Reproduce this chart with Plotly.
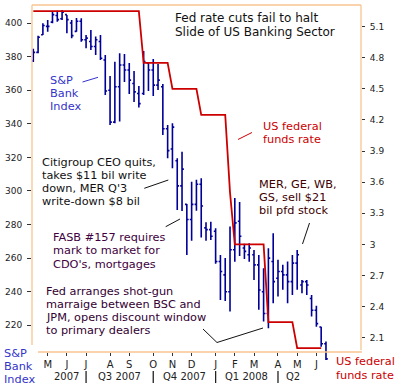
import plotly.graph_objects as go
import pandas as pd

# ---------------- data ----------------
WEEK_START = "2007-04-09"          # weekly bars (week beginning Monday)
weeks = pd.date_range(WEEK_START, periods=62, freq="7D")

bank_open = [377.5, 382.5, 393, 398, 400.5, 404.5, 402.5, 405, 400, 395,
             401, 390, 389, 386, 389, 378, 360, 341, 362, 375,
             372, 364, 358, 358, 376, 372, 363, 362, 337, 325,
             318, 303, 292, 283, 292, 304, 278, 277, 276, 258,
             250, 240, 265, 282, 266, 262, 262, 256, 240, 227,
             258, 248, 252, 250, 246, 257, 244, 246, 236, 229,
             219, 209]
bank_high = [384.6, 392.4, 399.8, 401.8, 406.7, 407.3, 407.7, 404.8, 401.8, 403,
             402.8, 392.9, 395.8, 391.9, 392.9, 381.0, 368.5, 377.0, 382.0, 381.5,
             376.2, 371.4, 362.5, 383.3, 376.8, 378.6, 375.6, 363.7, 339.3, 340.3,
             319.5, 323.4, 292.3, 305.5, 306.6, 307.6, 281.4, 281.7, 277.8, 261.9,
             260.1, 278.8, 295.8, 293.4, 268.5, 268.9, 264.9, 261.9, 254.0, 265.9,
             274.8, 259.0, 256.0, 258.0, 261.9, 264.9, 247.0, 247.0, 238.1, 231.6,
             219.2, 210.3]
bank_low = [376.8, 382.0, 392.9, 394.8, 399.8, 400.8, 401.8, 393.9, 390.9, 394.8,
            388.9, 384.9, 383.9, 381.0, 378.0, 357.2, 339.3, 340.3, 341.3, 364.9,
            357.7, 353.0, 349.7, 357.2, 359.5, 356.6, 360.1, 333.3, 319.5, 313.5,
            288.7, 288.1, 261.9, 270.3, 288.2, 272.3, 270.3, 270.8, 256.6, 235.1,
            234.5, 228.2, 257.8, 261.3, 259.5, 257.9, 247.0, 229.2, 222.2, 218.3,
            233.2, 237.1, 241.1, 233.2, 238.1, 241.1, 239.1, 238.1, 225.2, 219.2,
            207.3, 199.4]
bank_close = [382.5, 391.5, 398.5, 398, 405, 402, 406.5, 402, 392.5, 401,
              390, 391, 386, 390, 379, 359.5, 341, 362, 375, 372,
              366, 359, 352, 377, 372, 363, 366, 337, 324, 338,
              303, 313, 283, 292, 304, 291, 277, 273, 258, 252,
              240, 265, 281, 273, 264, 266, 256, 241, 227, 260,
              246, 252, 250, 246, 257, 262, 246, 244, 229, 221,
              209, 200]
fed_funds_rate = [5.25, 5.25, 5.25, 5.25, 5.25, 5.25, 5.25, 5.25, 5.25, 5.25,
                  5.25, 5.25, 5.25, 5.25, 5.25, 5.25, 5.25, 5.25, 5.25, 5.25,
                  5.25, 5.25, 5.25, 4.75, 4.75, 4.75, 4.75, 4.75, 4.75, 4.5,
                  4.5, 4.5, 4.5, 4.5, 4.5, 4.25, 4.25, 4.25, 4.25, 4.25,
                  4.25, 3.5, 3.0, 3.0, 3.0, 3.0, 3.0, 3.0, 3.0, 2.25,
                  2.25, 2.25, 2.25, 2.25, 2.25, 2.0, 2.0, 2.0, 2.0, 2.0,
                  2.0, None]

month_labels = ["M", "J", "J", "A", "S", "O", "N", "D", "J", "F", "M", "A", "M", "J"]
quarter_labels = ["2007", "Q3 2007", "Q4 2007", "Q1 2008", "Q2"]
left_ticks = [220, 240, 260, 280, 300, 320, 340, 360, 380, 400]
right_ticks = [2.1, 2.4, 2.7, 3.0, 3.3, 3.6, 3.9, 4.2, 4.5, 4.8, 5.1]
right_tick_text = ["2.1", "2.4", "2.7", "3", "3.3", "3.6", "3.9", "4.2", "4.5", "4.8", "5.1"]

# ---------------- layout helpers ----------------
W, H = 400, 386
L, R, T, B = 32, 361, 5, 362          # plot area in pixels
FONT = "DejaVu Sans"
ORANGE = "#f8c590"
BLUE = "#000099"
RED = "#cc0000"
TXT = 11.3
SP = 13.2


def px(xp):
    return (xp - L) / (R - L)


def py(yp):
    return (B - yp) / (B - T)


# week-containing-the-1st ticks
tick_idx = [i for i, d in enumerate(weeks)
            if d.day == 1 or (d + pd.Timedelta(days=6)).month != d.month]
tick_vals = [weeks[i] for i in tick_idx]

wk = pd.Timedelta(days=7)
x_range = [weeks[0] - 0.27 * wk, weeks[0] + 68.3 * wk]

fig = go.Figure()
fig.add_trace(go.Ohlc(
    x=weeks, open=bank_open, high=bank_high, low=bank_low, close=bank_close,
    increasing=dict(line=dict(color=BLUE, width=1.6)),
    decreasing=dict(line=dict(color=BLUE, width=1.6)),
    tickwidth=0.38, hoverinfo="skip", showlegend=False, name="S&P Bank Index"))
fig.add_trace(go.Scatter(
    x=weeks, y=fed_funds_rate, yaxis="y2", mode="lines",
    line=dict(color=RED, width=1.8), hoverinfo="skip", showlegend=False,
    name="US federal funds rate"))

fig.update_layout(
    width=W, height=H, autosize=False,
    margin=dict(l=L, r=W - R, t=T, b=H - B, pad=0),
    paper_bgcolor="white", plot_bgcolor="white",
    font=dict(family=FONT, size=9, color="#222"),
    xaxis=dict(type="date", range=x_range, anchor="free", position=py(352),
               tickvals=tick_vals, ticktext=month_labels,
               ticks="outside", ticklen=3, tickcolor="#333", tickwidth=1,
               showgrid=False, zeroline=False, showline=False,
               tickfont=dict(size=10, color="#222"),
               rangeslider=dict(visible=False), fixedrange=True),
    yaxis=dict(range=[198.15, 410.72], tickvals=left_ticks,
               ticks="outside", ticklen=4, tickcolor="#333",
               ticklabelstandoff=3,
               showgrid=False, zeroline=False, showline=False,
               tickfont=dict(size=9, color="#222")),
    yaxis2=dict(range=[1.8656, 5.309], overlaying="y", side="right",
                tickvals=right_ticks, ticktext=right_tick_text,
                ticks="outside", ticklen=3, tickcolor="#333",
                ticklabelstandoff=3,
                showgrid=False, zeroline=False, showline=False,
                tickfont=dict(size=9, color="#222")),
)

# frame lines
frame = [((L, 5), (R, 5)), ((L, 5), (L, 345)), ((R, 5), (R, 350)), ((38, 352), (362, 352))]
for (x0, y0), (x1, y1) in frame:
    fig.add_shape(type="line", xref="paper", yref="paper",
                  x0=px(x0), y0=py(y0), x1=px(x1), y1=py(y1),
                  line=dict(color=ORANGE, width=1.3))

# quarter separators and labels
sep_idx = [tick_idx[2], tick_idx[5], tick_idx[8], tick_idx[11]]
for i in sep_idx:
    fig.add_shape(type="line", xref="x", yref="paper",
                  x0=weeks[i], x1=weeks[i], y0=py(371), y1=py(383),
                  line=dict(color="#222", width=1.3))
q_centers = [(tick_idx[0] + sep_idx[0]) / 2, (sep_idx[0] + sep_idx[1]) / 2,
             (sep_idx[1] + sep_idx[2]) / 2, (sep_idx[2] + sep_idx[3]) / 2,
             sep_idx[3] + 3.2]
for lab, c in zip(quarter_labels, q_centers):
    fig.add_annotation(x=weeks[0] + c * wk, y=py(376.5), xref="x", yref="paper",
                       text=lab, showarrow=False, xanchor="center", yanchor="middle",
                       font=dict(family=FONT, size=10, color="#222"))


def add_lines(lines, x_left, y_first, spacing, color, size=TXT):
    for k, t in enumerate(lines):
        fig.add_annotation(x=px(x_left), y=py(y_first + k * spacing),
                           xref="paper", yref="paper", text=t, showarrow=False,
                           xanchor="left", yanchor="middle", borderpad=0,
                           font=dict(family=FONT, size=size, color=color))


def add_pointer(points, color):
    path = "M " + " L ".join(f"{px(a):.5f},{py(b):.5f}" for a, b in points)
    fig.add_shape(type="path", xref="paper", yref="paper", path=path,
                  line=dict(color=color, width=1))


add_lines(["Fed rate cuts fail to halt", "Slide of US Banking Sector"], 174, 18, 14.2, "#111", 12)
add_lines(["S&P", "Bank", "Index"], 49, 80.3, SP, "#3333cc")
add_pointer([(82.5, 82), (98, 77.3)], "#3333cc")
add_lines(["US federal", "funds rate"], 262, 126.5, SP, RED)
add_pointer([(238, 139.5), (252, 132.5)], RED)
add_lines(["Citigroup CEO quits,", "takes $11 bil write", "down, MER Q'3", "write-down $8 bil"],
          41, 162.3, SP, "#111")
add_pointer([(144.3, 188.3), (168.3, 180)], "#111")
add_lines(["FASB #157 requires", "mark to market for", "CDO's, mortgages"],
          52, 237.5, 13.4, "#400040")
add_pointer([(165.7, 226.7), (180, 219)], "#111")
add_lines(["Fed arranges shot-gun", "marraige between BSC and",
           "JPM, opens discount window", "to primary dealers"],
          45, 291.3, SP, "#330033")
add_pointer([(203, 329), (217, 342.5), (263, 328)], "#111")
add_lines(["MER, GE, WB,", "GS, sell $21", "bil pfd stock"], 258, 184, SP, "#400000")
add_pointer([(309.5, 223), (302.5, 244)], "#111")
add_lines(["S&P", "Bank", "Index"], 3, 353, SP, "#3333cc")
add_lines(["US federal", "funds rate"], 335, 361.5, 13.5, RED)

fig.write_html("out.html", config={"displayModeBar": False, "staticPlot": True},
               post_script="document.body.style.margin='0';")
